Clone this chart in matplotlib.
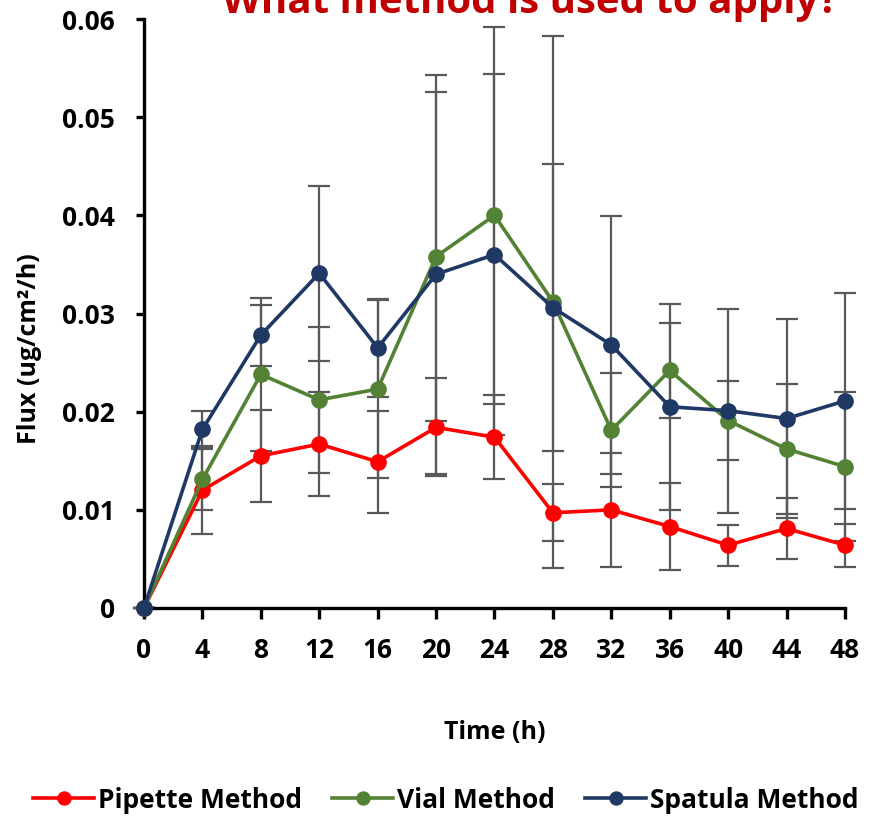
import numpy as np
import matplotlib
matplotlib.use("Agg")
import matplotlib.pyplot as plt

plt.rcParams['font.family'] = ['Open Sans', 'DejaVu Sans']
plt.rcParams['font.weight'] = 'bold'

# --- data ---
time_h = [0, 4, 8, 12, 16, 20, 24, 28, 32, 36, 40, 44, 48]

pipette = [0, 0.0120, 0.0155, 0.0167, 0.0149, 0.0184, 0.0174, 0.0097, 0.0100, 0.0083, 0.0064, 0.0081, 0.0064]
pipette_err = [0, 0.0045, 0.0047, 0.0053, 0.0052, 0.0050, 0.0043, 0.0029, 0.0058, 0.0044, 0.0021, 0.0031, 0.0022]

vial = [0, 0.0131, 0.0238, 0.0212, 0.0223, 0.0358, 0.0400, 0.0312, 0.0181, 0.0242, 0.0191, 0.0162, 0.0144]
vial_err = [0, 0.0031, 0.0078, 0.0074, 0.0091, 0.0168, 0.0192, 0.0271, 0.0058, 0.0048, 0.0040, 0.0066, 0.0076]

spatula = [0, 0.0182, 0.0278, 0.0341, 0.0265, 0.0340, 0.0360, 0.0306, 0.0268, 0.0205, 0.0201, 0.0193, 0.0211]
spatula_err = [0, 0.0019, 0.0031, 0.0089, 0.0050, 0.0203, 0.0184, 0.0146, 0.0131, 0.0105, 0.0104, 0.0101, 0.0110]

series = [
    ("Pipette Method", pipette, pipette_err, "#FF0000"),
    ("Vial Method", vial, vial_err, "#548235"),
    ("Spatula Method", spatula, spatula_err, "#1F3864"),
]

W, H = 879, 816
fig = plt.figure(figsize=(W / 100, H / 100), dpi=100)
ax = fig.add_axes([144 / W, 1 - 608 / H, 701 / W, 589 / H])

# error bars first, so the markers sit on top
for name, vals, err, col in series:
    ax.errorbar(time_h, vals, yerr=err, fmt='none', ecolor='#595959',
                elinewidth=1.6, capsize=8, capthick=1.6, zorder=2, clip_on=False)

handles = []
for name, vals, err, col in series:
    h, = ax.plot(time_h, vals, color=col, lw=2.6, marker='o', ms=11,
                 label=name, zorder=4, clip_on=False)
    handles.append(h)

ax.set_xlim(0, 48)
ax.set_ylim(0, 0.06)
ax.set_xticks(time_h)
ax.set_xticklabels([str(t) for t in time_h])
yt = [0, 0.01, 0.02, 0.03, 0.04, 0.05, 0.06]
ax.set_yticks(yt)
ax.set_yticklabels(['0'] + [f"{v:.2f}" for v in yt[1:]])

for s in ['top', 'right']:
    ax.spines[s].set_visible(False)
for s in ['left', 'bottom']:
    ax.spines[s].set_linewidth(2.4)

ax.tick_params(axis='x', direction='out', length=8, width=2.4, pad=13, labelsize=19)
ax.tick_params(axis='y', direction='out', length=6, width=2.4, pad=15, labelsize=19)
for lab in ax.get_xticklabels() + ax.get_yticklabels():
    lab.set_fontweight('bold')

ax.set_xlabel("Time (h)", fontsize=18, fontweight='bold')
ax.xaxis.set_label_coords(0.5, -0.212)
ax.xaxis.label.set_va('center')
ax.set_ylabel("Flux (ug/cm²/h)", fontsize=18, fontweight='bold')
ax.yaxis.set_label_coords(-0.163, 0.44)
ax.yaxis.label.set_va('center')

fig.text(530 / W, 1 - 13 / H, "What method is used to apply?", ha='center',
         va='baseline', color='#C00000', fontsize=29, fontweight='bold')

fig.legend(handles=handles, loc='center', bbox_to_anchor=(446 / W, 1 - 800 / H),
           ncol=3, frameon=False, handlelength=2.3, handletextpad=0.15,
           columnspacing=1.15, prop={'size': 19, 'weight': 'bold'}, markerscale=0.85)

fig.savefig("out.png", dpi=100)
